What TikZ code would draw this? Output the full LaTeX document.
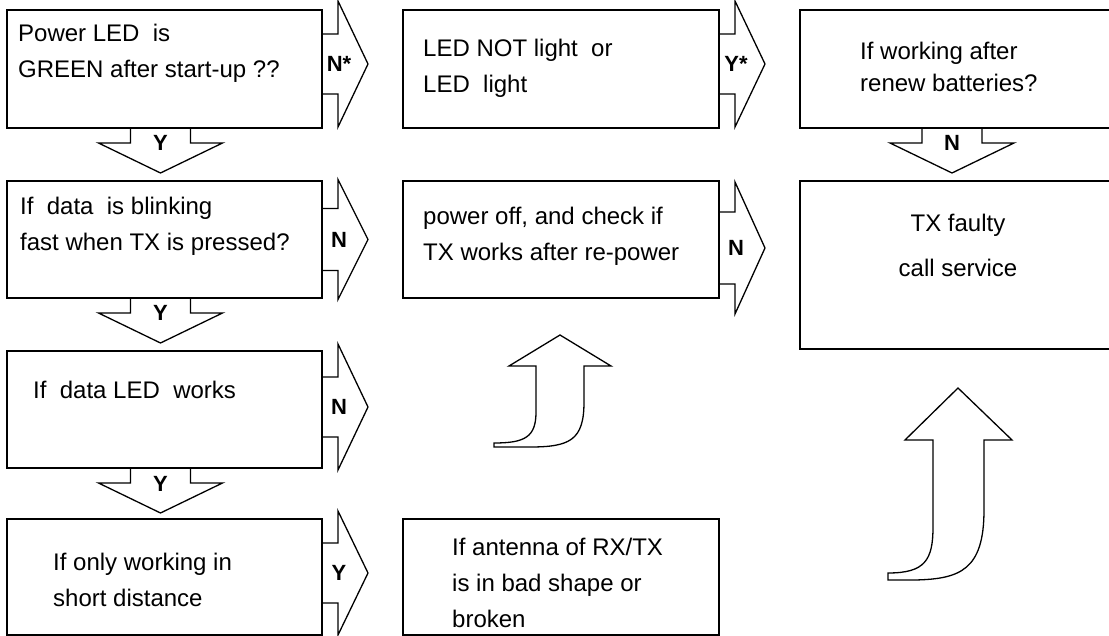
\documentclass[tikz,border=0pt]{standalone}
\usepackage{fontspec}
\setmainfont{Liberation Sans}
\usetikzlibrary{positioning}

\tikzset{
  box/.style = {draw, line width = 1.6pt, minimum width = 315pt, minimum height = 118pt, inner sep = 0pt, outer sep = 0pt},
  txt/.style = {anchor = base west, align = left, inner sep = 0pt, font = \fontsize{24}{36}\selectfont},
  lbl/.style = {font = \fontsize{22}{22}\selectfont\bfseries, inner sep = 0pt},
  blk/.style = {line width = 1.3pt, line join = miter},
  pics/rarr/.style n args = {3}{code = {
    \draw [blk] (0, #1) -- (16, #1) -- (16, #2) -- (46, 0) -- (16, -#2) -- (16, -#1) -- (0, -#1);
    \node [lbl] (-l) at (17, 0) {#3};
  }},
  pics/darr/.style = {code = {
    \draw [blk] (-30, 0) -- (-30, 15) -- (-62, 15) -- (0, 45) -- (62, 15) -- (30, 15) -- (30, 0);
    \node [lbl, anchor = base] (-l) at (0, 23) {#1};
  }},
}

\begin{document}
\begin{tikzpicture}[x = 1pt, y = -1pt]
  \clip (0, 0) rectangle (1109, 636);

  % first column
  \node [box, anchor = north west] (q1) at (7, 10) {};
  \node [box, anchor = north west, minimum height = 117pt] (q2) at (7, 181) {};
  \node [box, anchor = north west, minimum height = 117pt] (q3) at (7, 351) {};
  \node [box, anchor = north west, minimum height = 116pt] (q4) at (7, 519) {};

  % second column
  \node [box, anchor = north west, minimum width = 316pt] (r1) at (403, 10) {};
  \node [box, anchor = north west, minimum width = 316pt, minimum height = 117pt] (r2) at (403, 181) {};
  \node [box, anchor = north west, minimum width = 316pt, minimum height = 116pt] (r3) at (403, 519) {};

  % third column
  \node [box, anchor = north west, minimum width = 330pt] (s1) at (800, 10) {};
  \node [box, anchor = north west, minimum width = 330pt, minimum height = 168pt] (s2) at (800, 181) {};

  % texts (base = last line)
  \node [txt] (t1) at (18, 78) {Power LED\ \ is\\GREEN after start-up ??};
  \node [txt] (t2) at (20, 251) {If\ \ data\ \ is blinking\\fast when TX is pressed?};
  \node [txt] (t3) at (33, 399) {If\ \ data LED\ \ works};
  \node [txt] (t4) at (53, 606) {If only working in\\short distance};
  \node [txt] (t5) at (423, 93) {LED NOT light\ \ or\\LED\ \ light};
  \node [txt] (t6) at (423, 261) {power off, and check if\\TX works after re-power};
  \node [txt] (t7) at (452, 627) {If antenna of RX/TX\\is in bad shape or\\broken};
  \node [txt, font = \fontsize{24}{32}\selectfont] (t8) at (860, 92) {If working after\\renew batteries?};
  \node [txt, anchor = base, align = center, font = \fontsize{24}{45}\selectfont] (t9) at (958, 277) {TX faulty\\call service};

  % yes / no arrows
  \pic (a1) at ([yshift = 5pt] q1.east) {rarr = {30}{63}{N*}};
  \pic (a2) at (q2.east) {rarr = {31}{60}{N}};
  \pic (a3) at ([yshift = 2.5pt] q3.east) {rarr = {30}{63}{N}};
  \pic (a4) at ([yshift = 4pt] q4.east) {rarr = {30}{62}{Y}};
  \pic (a5) at ([yshift = 5pt] r1.east) {rarr = {30}{63}{Y*}};
  \pic (a6) at ([yshift = -8.5pt] r2.east) {rarr = {36}{66}{N}};

  \pic (d1) at ([xshift = -4pt] q1.south) {darr = Y};
  \pic (d2) at ([xshift = -4pt] q2.south) {darr = Y};
  \pic (d3) at ([xshift = -4pt] q3.south) {darr = Y};
  \pic (d4) at ([xshift = 152pt] s1.south west) {darr = N};

  % bent arrows
  \draw [blk] (560, 335) -- (611, 366) -- (584, 366) -- (584, 402)
    .. controls (584, 440) and (570, 447) .. (530, 447) -- (494, 447) -- (494, 443)
    .. controls (525, 443) and (536, 437) .. (536, 412) -- (536, 366) -- (509, 366) -- cycle;
  \draw [blk] (958, 388) -- (1012, 440) -- (984, 440) -- (984, 510)
    .. controls (984, 570) and (960, 579) .. (915, 580) -- (888, 580) -- (888, 573)
    .. controls (925, 573) and (933, 560) .. (933, 527) -- (933, 440) -- (905, 440) -- cycle;
\end{tikzpicture}
\end{document}
